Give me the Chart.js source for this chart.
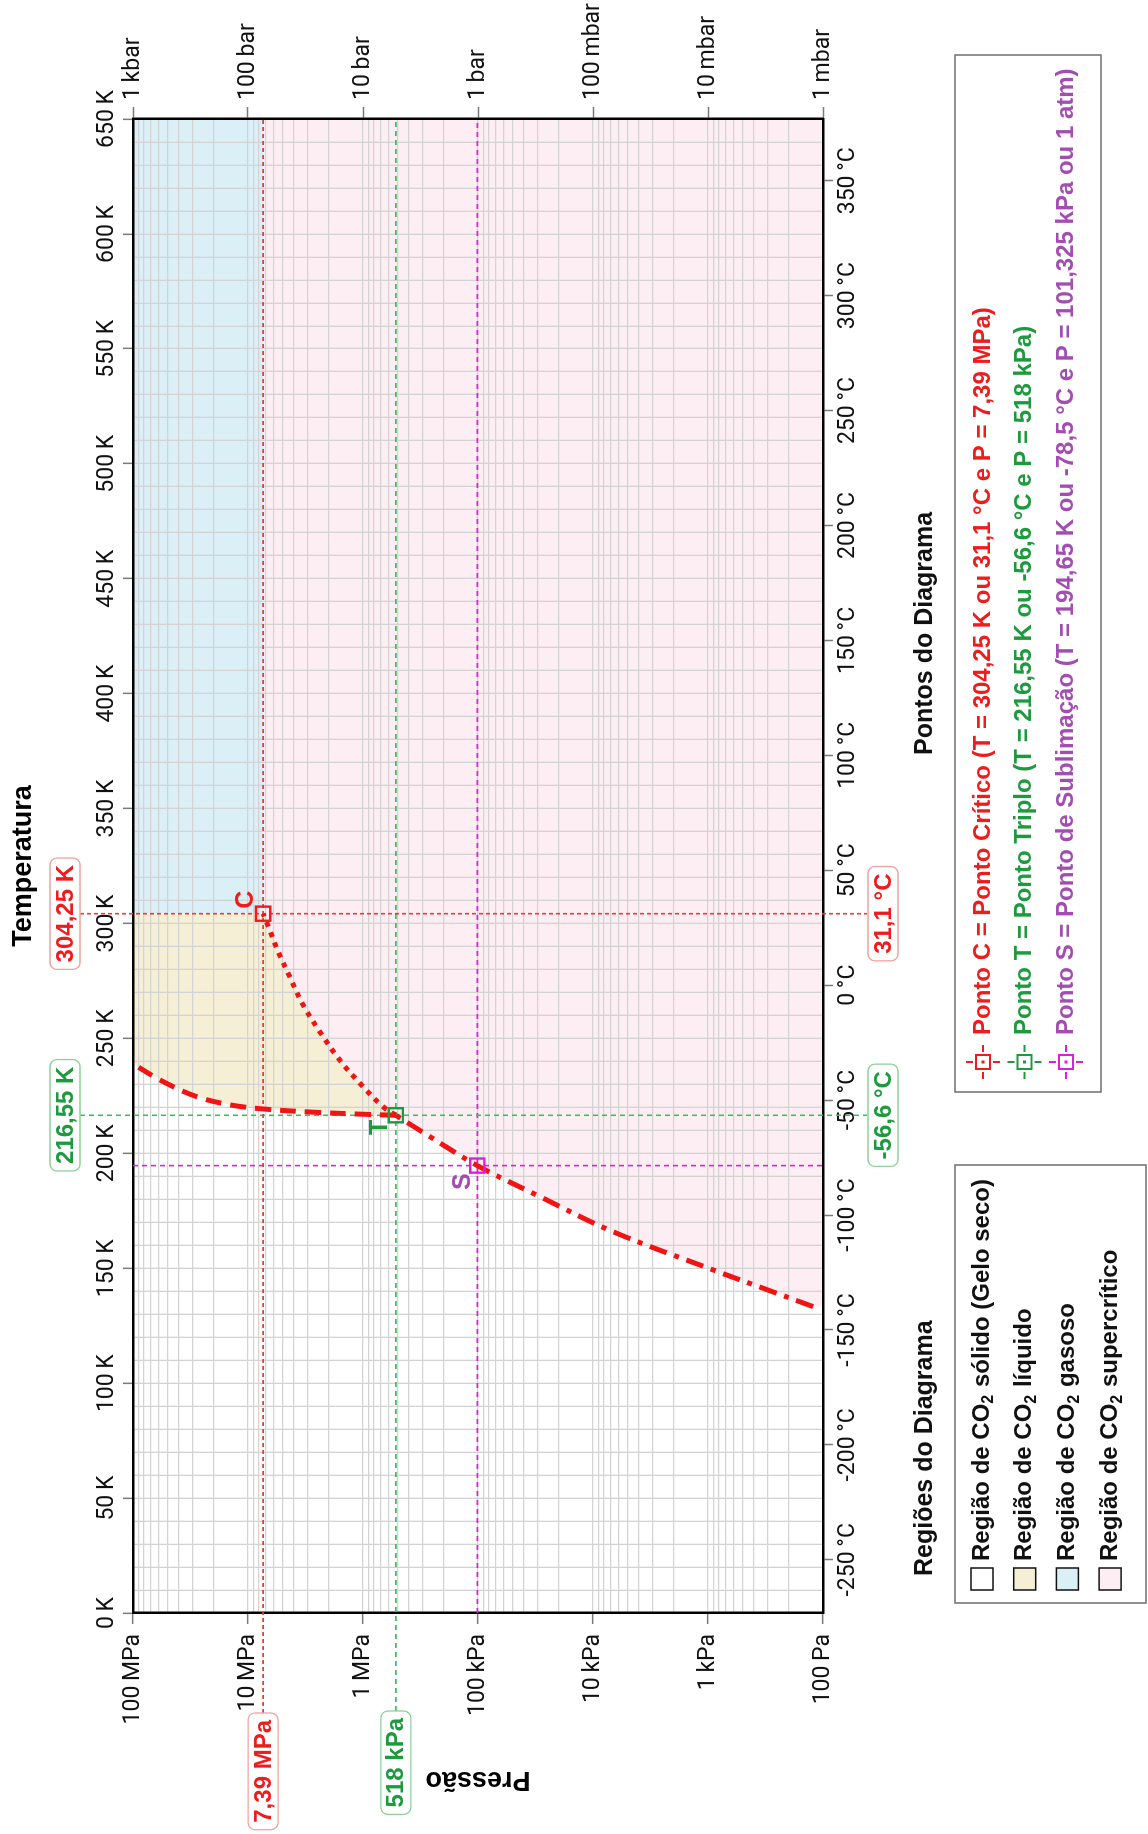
<!DOCTYPE html>
<html lang="pt">
<head>
<meta charset="utf-8">
<title>Diagrama de fases do CO2</title>
<script src="https://cdn.jsdelivr.net/npm/chart.js@4.4.1/dist/chart.umd.min.js"></script>
<style>
  html, body { margin: 0; padding: 0; background: #fff; width: 1148px; height: 1834px; overflow: hidden; }
  #wrap {
    position: absolute; left: 0; top: 0; width: 1834px; height: 1148px;
    transform-origin: 0 0;
    transform: translate(0px, 1834px) rotate(-90deg);
  }
  canvas { display: block; }
</style>
</head>
<body>
<div id="wrap"><canvas id="phaseChart" width="1834" height="1148"></canvas></div>
<script>
// temperatures in K, pressures in Pa
const tempTicksK    = [0, 50, 100, 150, 200, 250, 300, 350, 400, 450, 500, 550, 600, 650];
const celsiusTicks  = [-250, -200, -150, -100, -50, 0, 50, 100, 150, 200, 250, 300, 350];
const pressureDecades = [1e2, 1e3, 1e4, 1e5, 1e6, 1e7, 1e8];
const pascalLabels  = ['100\u2009Pa', '1\u2009kPa', '10\u2009kPa', '100\u2009kPa', '1\u2009MPa', '10\u2009MPa', '100\u2009MPa'];
const barLabels     = ['1\u2009mbar', '10\u2009mbar', '100\u2009mbar', '1\u2009bar', '10\u2009bar', '100\u2009bar', '1\u2009kbar'];

// curves
const sublimationT  = [133.3, 141.3, 149.3, 165.9, 181.2, 194.65, 207.3, 216.55];
const sublimationP  = [122, 332, 906, 6700, 29070, 101325, 263000, 518000];
const vaporizationT = [216.55, 220.3, 229.0, 240.6, 253.0, 264.6, 276.9, 287.8, 297.2, 304.25];
const vaporizationP = [518000, 670000, 1.0e6, 1.595e6, 2.38e6, 3.32e6, 4.34e6, 5.48e6, 6.48e6, 7.39e6];
const fusionT       = [216.55, 217.0, 217.9, 219.3, 221.1, 224.7, 231.2, 238.5, 239.2];
const fusionP       = [518000, 1.0e6, 2.72e6, 7.41e6, 14.4e6, 28.1e6, 54.8e6, 96.6e6, 1e8];

const criticalPoint    = { T: 304.25, P: 7.39e6 };
const triplePoint      = { T: 216.55, P: 518e3 };
const sublimationPoint = { T: 194.65, P: 101325 };

const regionNames  = ['sólido (Gelo seco)', 'líquido', 'gasoso', 'supercrítico'];
const regionColors = ['#ffffff', '#f5efd6', '#dbeff7', '#fdeef3'];
const pointLegend  = [
  'Ponto C = Ponto Crítico (T = 304,25 K ou 31,1 °C e P = 7,39 MPa)',
  'Ponto T = Ponto Triplo (T = 216,55 K ou -56,6 °C e P = 518 kPa)',
  'Ponto S = Ponto de Sublimação (T = 194,65 K ou -78,5 °C e P = 101,325 kPa ou 1 atm)'
];

const KELVIN  = 273.15;
const RED     = '#ee1c1c';
const GREEN   = '#1d9a3e';
const PURPLE  = '#a34db2';
const MAGENTA = '#dd1fdd';
const GRID    = '#d3d3d3';
const TICK    = '#7a7a7a';
const LABEL   = 'Roboto, "Open Sans", sans-serif';
const BOLD    = '"Liberation Sans", Arial, sans-serif';

const tempGrid = [];
for (let t = 0; t <= 650; t += 10) tempGrid.push(t);
const pressureGrid = [];
pressureDecades.forEach((d, i) => {
  if (i === pressureDecades.length - 1) { pressureGrid.push(d); return; }
  for (let m = 1; m <= 9; m++) pressureGrid.push(m * d);
});

const pts = (xs, ys) => xs.map((x, i) => ({ x, y: ys[i] }));

const pinkShape  = [{ x: sublimationT[0], y: 100 }]
  .concat(pts(sublimationT, sublimationP))
  .concat(pts(vaporizationT.slice(1), vaporizationP.slice(1)))
  .concat([{ x: 650, y: criticalPoint.P }, { x: 650, y: 100 }]);
const liquidShape = pts(fusionT, fusionP).reverse()
  .concat(pts(vaporizationT.slice(1), vaporizationP.slice(1)))
  .concat([{ x: criticalPoint.T, y: 1e8 }]);
const blueShape = [
  { x: criticalPoint.T, y: criticalPoint.P }, { x: criticalPoint.T, y: 1e8 },
  { x: 650, y: 1e8 }, { x: 650, y: criticalPoint.P }
];

function marker(p, color) {
  return {
    data: [{ x: p.T, y: p.P }], showLine: false, pointStyle: 'rect', pointRadius: 10,
    borderColor: color, backgroundColor: 'rgba(0,0,0,0)', borderWidth: 2.4
  };
}
function curve(xs, ys, dash) {
  return {
    data: pts(xs, ys), borderColor: '#f01414', borderWidth: 5, borderDash: dash,
    borderCapStyle: 'butt', pointRadius: 0, fill: false, tension: 0.35
  };
}
function region(data, color) {
  return { data, borderWidth: 0, pointRadius: 0, backgroundColor: color, fill: 'shape', tension: 0 };
}

function dashLine(ctx, x1, y1, x2, y2, color, dash) {
  ctx.save();
  ctx.strokeStyle = color;
  ctx.lineWidth = 1.6;
  ctx.setLineDash(dash);
  ctx.beginPath();
  ctx.moveTo(x1, y1);
  ctx.lineTo(x2, y2);
  ctx.stroke();
  ctx.restore();
}

function valueBox(ctx, text, cx, cy, color, border, alignRight) {
  ctx.save();
  ctx.font = 'bold 24px ' + BOLD;
  const w = ctx.measureText(text).width + 14;
  const h = 30;
  const x = alignRight ? cx - w : cx - w / 2;
  ctx.beginPath();
  ctx.roundRect(x, cy - h / 2, w, h, 7);
  ctx.fillStyle = '#fff';
  ctx.fill();
  ctx.strokeStyle = border;
  ctx.lineWidth = 1.3;
  ctx.stroke();
  ctx.fillStyle = color;
  ctx.textAlign = 'center';
  ctx.textBaseline = 'middle';
  ctx.fillText(text, x + w / 2, cy + 1);
  ctx.restore();
}

function pointMarker(ctx, x, y, color) {
  ctx.save();
  ctx.strokeStyle = color;
  ctx.lineWidth = 2;
  ctx.strokeRect(x - 7, y - 7, 14, 14);
  ctx.beginPath();
  ctx.moveTo(x - 17, y); ctx.lineTo(x - 10, y);
  ctx.moveTo(x + 10, y); ctx.lineTo(x + 17, y);
  ctx.moveTo(x, y - 17); ctx.lineTo(x, y - 10);
  ctx.moveTo(x, y + 10); ctx.lineTo(x, y + 17);
  ctx.stroke();
  ctx.fillStyle = color;
  ctx.fillRect(x - 1.5, y - 1.5, 3, 3);
  ctx.restore();
}

const phaseAnnotations = {
  id: 'phaseAnnotations',
  beforeDatasetsDraw(chart) {
    const { ctx, chartArea: a, scales: { x, y } } = chart;
    const cx = x.getPixelForValue(criticalPoint.T), cy = y.getPixelForValue(criticalPoint.P);
    const tx = x.getPixelForValue(triplePoint.T),   ty = y.getPixelForValue(triplePoint.P);
    const sx = x.getPixelForValue(sublimationPoint.T), sy = y.getPixelForValue(sublimationPoint.P);

    dashLine(ctx, sx, a.top, sx, a.bottom, MAGENTA, [5, 4]);
    dashLine(ctx, a.left, sy, a.right, sy, MAGENTA, [5, 4]);
    dashLine(ctx, tx, 80, tx, 867, '#3fbf5c', [5, 4]);
    dashLine(ctx, 123, ty, a.right, ty, '#3fbf5c', [5, 4]);
    dashLine(ctx, cx, 80, cx, 867, '#f23535', [4, 3]);
    dashLine(ctx, 121, cy, a.right, cy, '#f23535', [4, 3]);
  },
  afterDraw(chart) {
    const { ctx, scales: { x, y } } = chart;
    const cx = x.getPixelForValue(criticalPoint.T), cy = y.getPixelForValue(criticalPoint.P);
    const tx = x.getPixelForValue(triplePoint.T),   ty = y.getPixelForValue(triplePoint.P);
    const sx = x.getPixelForValue(sublimationPoint.T), sy = y.getPixelForValue(sublimationPoint.P);

    valueBox(ctx, '304,25 K', cx, 65, RED, '#f3a0a0');
    valueBox(ctx, '216,55 K', tx, 65, GREEN, '#8fd19c');
    valueBox(ctx, '31,1 °C', cx, 883, RED, '#f3a0a0');
    valueBox(ctx, '-56,6 °C', tx, 883, GREEN, '#8fd19c');
    valueBox(ctx, '7,39 MPa', 121, cy, RED, '#f3a0a0', true);
    valueBox(ctx, '518 kPa', 123, ty, GREEN, '#8fd19c', true);

    ctx.save();
    ctx.font = 'bold 25px ' + BOLD;
    ctx.textAlign = 'center';
    ctx.textBaseline = 'middle';
    ctx.fillStyle = RED;    ctx.fillText('C', cx + 14, cy - 17);
    ctx.fillStyle = GREEN;  ctx.fillText('T', tx - 12, ty - 16);
    ctx.fillStyle = PURPLE; ctx.fillText('S', sx - 16, sy - 14);
    ctx.restore();

    // legend boxes
    ctx.save();
    ctx.strokeStyle = '#6e6e6e';
    ctx.lineWidth = 1.5;
    ctx.strokeRect(231, 955, 438, 191);
    ctx.strokeRect(742, 955, 1037, 146);
    ctx.fillStyle = '#111';
    ctx.textBaseline = 'middle';
    ctx.textAlign = 'left';
    ctx.font = 'bold 25px ' + BOLD;
    ctx.fillText('Regiões do Diagrama', 258, 925);
    ctx.fillText('Pontos do Diagrama', 1079, 925);

    regionNames.forEach((name, i) => {
      const ry = 982 + i * 42.7;
      ctx.fillStyle = regionColors[i];
      ctx.fillRect(244, ry - 11, 22, 22);
      ctx.strokeStyle = '#111';
      ctx.lineWidth = 1.5;
      ctx.strokeRect(244, ry - 11, 22, 22);
      ctx.fillStyle = '#111';
      ctx.font = 'bold 24px ' + BOLD;
      let px = 273;
      const head = 'Região de CO';
      ctx.fillText(head, px, ry);
      px += ctx.measureText(head).width;
      ctx.font = 'bold 16px ' + BOLD;
      ctx.fillText('2', px, ry + 7);
      px += ctx.measureText('2').width + 1;
      ctx.font = 'bold 24px ' + BOLD;
      ctx.fillText(' ' + name, px, ry);
    });

    const legendColors = [RED, GREEN, PURPLE];
    const markerColors = [RED, GREEN, MAGENTA];
    pointLegend.forEach((text, i) => {
      const ry = 983 + i * 41.5;
      pointMarker(ctx, 772, ry, markerColors[i]);
      ctx.fillStyle = legendColors[i];
      ctx.font = 'bold 24px ' + BOLD;
      ctx.fillText(text, 799, ry);
    });
    ctx.restore();
  }
};

const tickFont = { family: LABEL, size: 23, lineHeight: 1 };
const isDecade = v => pressureDecades.includes(v);

new Chart(document.getElementById('phaseChart'), {
  type: 'line',
  data: {
    datasets: [
      marker(criticalPoint, RED),
      marker(triplePoint, GREEN),
      marker(sublimationPoint, MAGENTA),
      curve(fusionT, fusionP, [16, 9]),
      curve(vaporizationT, vaporizationP, [5, 6]),
      curve(sublimationT, sublimationP, [18, 8, 5, 8]),
      region(liquidShape, regionColors[1]),
      region(blueShape, regionColors[2]),
      region(pinkShape, regionColors[3])
    ]
  },
  options: {
    responsive: false,
    devicePixelRatio: 1,
    animation: false,
    events: [],
    layout: { padding: 0 },
    plugins: {
      legend: { display: false },
      tooltip: { enabled: false },
      filler: { drawTime: 'beforeDraw' }
    },
    scales: {
      x: {
        type: 'linear', position: 'top', min: 0, max: 650,
        afterBuildTicks: s => { s.ticks = tempGrid.map(v => ({ value: v })); },
        afterFit: s => { s.height = 133; },
        ticks: {
          autoSkip: false, maxRotation: 0, minRotation: 0, padding: 4, color: '#111', font: tickFont,
          callback: v => tempTicksK.includes(v) ? v + '\u2009K' : ''
        },
        grid: {
          color: GRID, lineWidth: 1.3, tickLength: 10, tickWidth: 1.5,
          tickColor: c => (c.tick && tempTicksK.includes(c.tick.value)) ? TICK : 'rgba(0,0,0,0)'
        },
        border: { display: true, color: '#000', width: 2.5 },
        title: {
          display: true, text: 'Temperatura', color: '#000',
          font: { family: BOLD, size: 27, weight: 'bold', lineHeight: 1.2 },
          padding: { top: 7, bottom: 0 }
        }
      },
      x2: {
        type: 'linear', position: 'bottom', min: 0, max: 650,
        afterBuildTicks: s => { s.ticks = celsiusTicks.map(c => ({ value: c + KELVIN })); },
        afterFit: s => { s.height = 325; },
        ticks: {
          autoSkip: false, maxRotation: 0, minRotation: 0, padding: 4, color: '#111', font: tickFont,
          callback: (v, i) => celsiusTicks[i] + '\u2009°C'
        },
        grid: { drawOnChartArea: false, tickLength: 10, tickWidth: 1.5, tickColor: TICK, color: GRID },
        border: { display: true, color: '#000', width: 2.5 }
      },
      y: {
        type: 'logarithmic', position: 'left', min: 100, max: 1e8,
        afterBuildTicks: s => { s.ticks = pressureGrid.map(v => ({ value: v })); },
        afterFit: s => { s.width = 221; },
        ticks: {
          autoSkip: false, padding: 10, color: '#111', font: tickFont,
          callback: v => isDecade(v) ? pascalLabels[pressureDecades.indexOf(v)] : ''
        },
        grid: {
          color: GRID, lineWidth: 1.3, tickLength: 11, tickWidth: 1.5,
          tickColor: c => (c.tick && isDecade(c.tick.value)) ? TICK : 'rgba(0,0,0,0)'
        },
        border: { display: true, color: '#000', width: 2.5 },
        title: {
          display: true, text: 'Pressão', color: '#000',
          font: { family: BOLD, size: 27, weight: 'bold', lineHeight: 1.2 },
          padding: { top: 38, bottom: 0 }
        }
      },
      y2: {
        type: 'logarithmic', position: 'right', min: 100, max: 1e8,
        afterBuildTicks: s => { s.ticks = pressureDecades.map(v => ({ value: v })); },
        afterFit: s => { s.width = 119; },
        ticks: {
          autoSkip: false, padding: 7, color: '#111', font: tickFont,
          callback: v => barLabels[pressureDecades.indexOf(v)]
        },
        grid: { drawOnChartArea: false, tickLength: 12, tickWidth: 1.5, tickColor: TICK, color: GRID },
        border: { display: true, color: '#000', width: 2.5 }
      }
    }
  },
  plugins: [phaseAnnotations]
});
</script>
</body>
</html>
